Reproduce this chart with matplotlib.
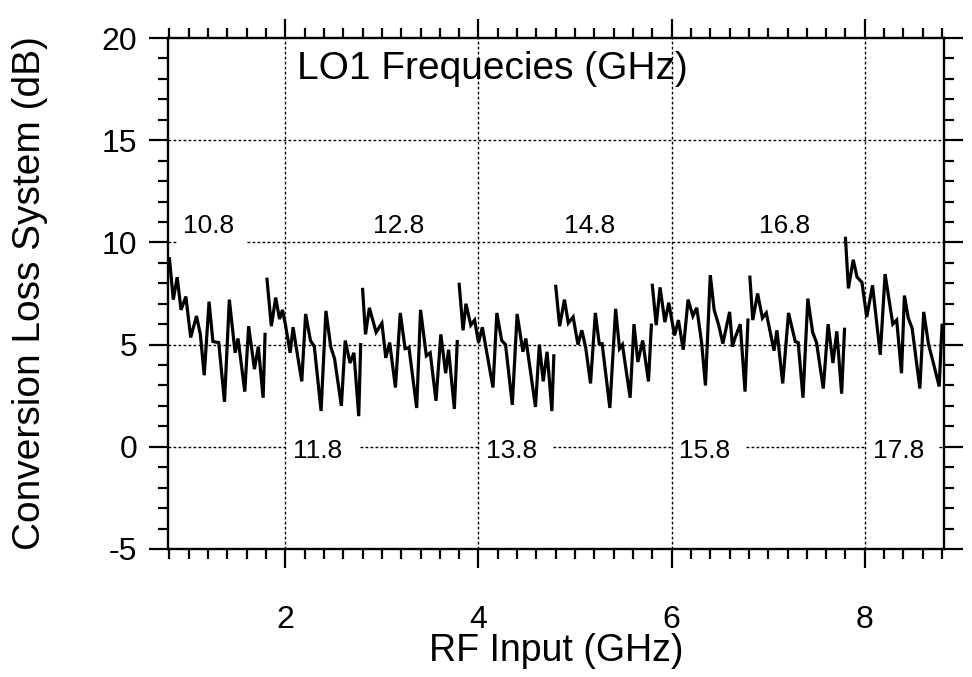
import numpy as np
import matplotlib
matplotlib.use('Agg')
import matplotlib.pyplot as plt
from matplotlib.ticker import MultipleLocator

plt.rcParams['font.family'] = ['Liberation Sans', 'DejaVu Sans']
plt.rcParams['axes.unicode_minus'] = False

# conversion loss traces, one per LO1 frequency
seg1_x = [0.80, 0.84, 0.88, 0.92, 0.97, 1.02, 1.08, 1.12, 1.16, 1.21, 1.25, 1.31, 1.37, 1.42, 1.48, 1.51, 1.58, 1.62, 1.68, 1.72, 1.77, 1.79]
seg1_y = [9.2, 7.2, 8.3, 6.7, 7.35, 5.35, 6.4, 5.5, 3.5, 7.1, 5.15, 5.1, 2.2, 7.2, 4.6, 5.3, 2.7, 5.9, 3.8, 4.9, 2.4, 5.5]
seg2_x = [1.81, 1.855, 1.90, 1.94, 1.97, 2.00, 2.05, 2.08, 2.11, 2.17, 2.21, 2.26, 2.30, 2.37, 2.42, 2.47, 2.51, 2.58, 2.62, 2.67, 2.71, 2.76, 2.78]
seg2_y = [8.2, 5.9, 7.3, 6.25, 6.7, 6.0, 4.6, 5.85, 4.95, 3.2, 6.5, 5.2, 4.9, 1.75, 6.65, 4.9, 4.3, 2.0, 5.2, 4.1, 4.6, 1.5, 5.0]
seg3_x = [2.80, 2.83, 2.87, 2.94, 3.00, 3.04, 3.08, 3.14, 3.19, 3.24, 3.28, 3.36, 3.40, 3.46, 3.50, 3.56, 3.61, 3.66, 3.69, 3.75, 3.78]
seg3_y = [7.7, 5.5, 6.8, 5.6, 6.05, 4.35, 5.1, 2.9, 6.55, 4.8, 4.85, 1.9, 6.7, 4.45, 4.6, 2.25, 5.5, 3.6, 4.75, 1.85, 5.15]
seg4_x = [3.80, 3.84, 3.87, 3.92, 3.96, 4.00, 4.04, 4.09, 4.15, 4.19, 4.24, 4.28, 4.35, 4.40, 4.46, 4.49, 4.59, 4.63, 4.67, 4.71, 4.76, 4.78]
seg4_y = [7.95, 5.7, 7.0, 5.95, 6.2, 5.1, 5.85, 4.5, 2.9, 6.55, 5.2, 5.0, 2.05, 6.5, 4.65, 5.3, 1.95, 5.0, 3.2, 4.65, 1.75, 4.45]
seg5_x = [4.80, 4.84, 4.89, 4.93, 4.98, 5.03, 5.07, 5.11, 5.16, 5.21, 5.25, 5.28, 5.36, 5.42, 5.46, 5.49, 5.57, 5.61, 5.65, 5.70, 5.76, 5.79]
seg5_y = [7.85, 5.9, 7.2, 6.05, 6.35, 5.0, 5.7, 4.85, 3.1, 6.55, 5.05, 5.05, 1.9, 6.75, 4.8, 5.0, 2.4, 6.0, 4.15, 5.2, 3.2, 5.95]
seg6_x = [5.80, 5.84, 5.88, 5.93, 5.97, 6.03, 6.07, 6.12, 6.17, 6.22, 6.26, 6.31, 6.35, 6.40, 6.44, 6.49, 6.53, 6.60, 6.63, 6.65, 6.71, 6.76, 6.79]
seg6_y = [7.9, 5.95, 7.8, 6.1, 7.05, 5.45, 6.2, 4.75, 7.2, 6.4, 6.8, 5.1, 3.0, 8.4, 6.7, 5.9, 5.05, 6.6, 4.9, 5.25, 6.0, 2.7, 6.2]
seg7_x = [6.81, 6.84, 6.89, 6.94, 6.98, 7.06, 7.09, 7.15, 7.21, 7.28, 7.31, 7.36, 7.41, 7.46, 7.50, 7.57, 7.62, 7.67, 7.71, 7.76, 7.79]
seg7_y = [8.3, 6.2, 7.5, 6.3, 6.55, 4.7, 5.7, 3.1, 6.55, 5.15, 5.1, 2.4, 7.25, 5.6, 5.1, 2.85, 6.0, 4.1, 5.65, 2.6, 5.75]
seg8_x = [7.80, 7.83, 7.88, 7.92, 7.97, 8.02, 8.08, 8.16, 8.21, 8.29, 8.33, 8.38, 8.41, 8.45, 8.49, 8.57, 8.61, 8.66, 8.71, 8.77, 8.80]
seg8_y = [10.2, 7.75, 9.15, 8.3, 8.05, 6.35, 7.9, 4.5, 8.45, 6.0, 6.2, 3.6, 7.4, 6.3, 5.8, 2.85, 6.6, 5.0, 4.1, 2.95, 5.95]

segs_x = [seg1_x, seg2_x, seg3_x, seg4_x, seg5_x, seg6_x, seg7_x, seg8_x]
segs_y = [seg1_y, seg2_y, seg3_y, seg4_y, seg5_y, seg6_y, seg7_y, seg8_y]

# LO1 labels
lo_upper = ['10.8', '12.8', '14.8', '16.8']
lo_upper_x = [1.20, 3.17, 5.15, 7.17]
lo_lower = ['11.8', '13.8', '15.8', '17.8']
lo_lower_x = [2.08, 4.08, 6.08, 8.08]

xmin, xmax = 0.785, 8.82
dots = (0, (2.0, 1.6))

fig = plt.figure(figsize=(9.72, 6.77), dpi=100)
ax = fig.add_axes([168/972, 1-549/677, 776/972, 511/677])

for sx, sy in zip(segs_x, segs_y):
    ax.plot(sx, sy, color='black', lw=2.3, solid_joinstyle='miter')

# dotted reference lines
for gx in [2, 4, 6, 8]:
    ax.axvline(gx, color='black', lw=1.0, ls=dots, zorder=0)
ax.axhline(15, color='black', lw=1.0, ls=dots, zorder=0)
ax.axhline(5, color='black', lw=1.0, ls=dots, zorder=0)
ax.hlines([10, 10], [xmin, 1.6], [0.88, xmax], color='black', lw=1.0, ls=dots, zorder=0)
ax.hlines([0] * 5, [xmin, 2.77, 4.77, 6.77, 8.77], [2.0, 4.0, 6.0, 8.0, xmax],
          color='black', lw=1.0, ls=dots, zorder=0)

for lab, lx in zip(lo_upper, lo_upper_x):
    ax.text(lx, 10.8, lab, fontsize=19, ha='center', va='center')
for lab, lx in zip(lo_lower, lo_lower_x):
    ax.text(lx, -0.2, lab, fontsize=19, ha='left', va='center')

ax.text(2.12, 18.5, 'LO1 Frequecies (GHz)', fontsize=28, ha='left', va='center')

ax.set_xlim(xmin, xmax)
ax.set_ylim(-5, 20)
ax.xaxis.set_major_locator(MultipleLocator(2))
ax.xaxis.set_minor_locator(MultipleLocator(0.2))
ax.yaxis.set_major_locator(MultipleLocator(5))
ax.yaxis.set_minor_locator(MultipleLocator(1))
ax.tick_params(which='both', direction='out', top=True, right=True, width=1.6, labelsize=23)
ax.tick_params(which='major', length=14)
ax.tick_params(which='minor', length=7)
ax.tick_params(axis='x', which='major', pad=26)
ax.tick_params(axis='y', which='major', pad=8)
for sp in ax.spines.values():
    sp.set_linewidth(1.7)

ax.set_xlabel('RF Input (GHz)', fontsize=27, va='center')
ax.xaxis.set_label_coords(0.5, -0.2)
ax.set_ylabel('Conversion Loss System (dB)', fontsize=28, va='center')
ax.yaxis.set_label_coords(-0.178, 0.5)

fig.savefig('out.png', dpi=100)
